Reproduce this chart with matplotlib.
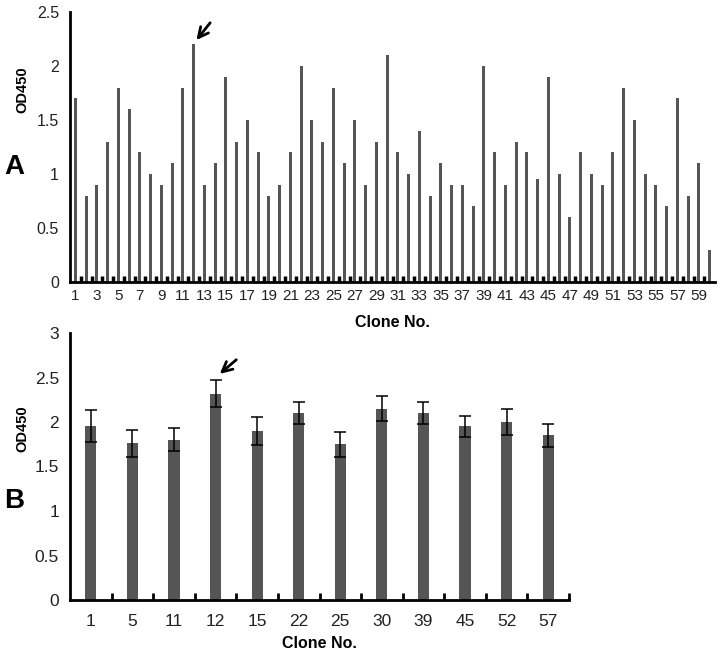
import matplotlib
matplotlib.use("Agg")
import matplotlib.pyplot as plt
import numpy as np

plt.rcParams['font.family'] = ['Liberation Sans', 'DejaVu Sans']

# Panel A data
clones_a = list(range(1, 61))
od_a = [1.7, 0.8, 0.9, 1.3, 1.8, 1.6, 1.2, 1.0, 0.9, 1.1,
        1.8, 2.2, 0.9, 1.1, 1.9, 1.3, 1.5, 1.2, 0.8, 0.9,
        1.2, 2.0, 1.5, 1.3, 1.8, 1.1, 1.5, 0.9, 1.3, 2.1,
        1.2, 1.0, 1.4, 0.8, 1.1, 0.9, 0.9, 0.7, 2.0, 1.2,
        0.9, 1.3, 1.2, 0.95, 1.9, 1.0, 0.6, 1.2, 1.0, 0.9,
        1.2, 1.8, 1.5, 1.0, 0.9, 0.7, 1.7, 0.8, 1.1, 0.3]

# Panel B data
clones_b = ['1', '5', '11', '12', '15', '22', '25', '30', '39', '45', '52', '57']
od_b = [1.95, 1.76, 1.80, 2.32, 1.90, 2.10, 1.75, 2.15, 2.10, 1.95, 2.00, 1.85]
err_b = [0.18, 0.15, 0.13, 0.15, 0.155, 0.12, 0.14, 0.14, 0.12, 0.12, 0.15, 0.13]

bar_color = '#555555'
W, H = 720, 654
fig = plt.figure(figsize=(W / 100, H / 100), dpi=100)

def px_axes(left, right, top, bottom):
    return fig.add_axes([left / W, 1 - bottom / H, (right - left) / W, (bottom - top) / H])

# ---------- Panel A ----------
axA = px_axes(70, 715, 12, 282)
xa = np.arange(len(od_a))
axA.bar(xa, od_a, width=0.3, color=bar_color)
axA.set_xlim(-0.5, len(od_a) - 0.5)
axA.set_ylim(0, 2.5)
axA.set_yticks([0, 0.5, 1, 1.5, 2, 2.5])
axA.set_yticklabels(['0', '0.5', '1', '1.5', '2', '2.5'])
axA.set_xticks(xa[::2])
axA.set_xticklabels([str(c) for c in clones_a[::2]])
axA.set_xticks(np.arange(0.5, len(od_a) - 0.5, 1.0), minor=True)
axA.tick_params(axis='x', which='major', length=0, labelsize=11, pad=5, colors='#222222')
axA.tick_params(axis='x', which='minor', direction='in', length=4, width=2.5, color='black')
axA.tick_params(axis='y', which='major', length=0, labelsize=11.5, pad=8, colors='#222222')
for s in ['top', 'right']:
    axA.spines[s].set_visible(False)
axA.spines['left'].set_linewidth(2)
axA.spines['bottom'].set_linewidth(2)
axA.set_xlabel('Clone No.', fontsize=11.5, fontweight='bold', labelpad=9)
axA.annotate('', xy=(11.1, 2.22), xytext=(12.7, 2.42),
             arrowprops=dict(arrowstyle='->', lw=2, color='black', mutation_scale=18))

# ---------- Panel B ----------
axB = px_axes(70, 569, 333, 600)
xb = np.arange(len(od_b))
axB.bar(xb, od_b, width=0.27, color=bar_color, yerr=err_b,
        error_kw=dict(ecolor='black', elinewidth=1.1, capsize=4, capthick=1.1))
axB.set_xlim(-0.5, len(od_b) - 0.5)
axB.set_ylim(0, 3)
axB.set_yticks([0, 0.5, 1, 1.5, 2, 2.5, 3])
axB.set_yticklabels(['0', '0.5', '1', '1.5', '2', '2.5', '3'])
axB.set_xticks(xb)
axB.set_xticklabels(clones_b)
axB.set_xticks(np.arange(0.5, len(od_b), 1.0), minor=True)
axB.tick_params(axis='x', which='major', length=0, labelsize=12.5, pad=10, colors='#222222')
axB.tick_params(axis='x', which='minor', direction='in', length=5, width=2, color='black')
axB.tick_params(axis='y', which='major', length=0, labelsize=12.5, pad=8, colors='#222222')
for s in ['top', 'right']:
    axB.spines[s].set_visible(False)
axB.spines['left'].set_linewidth(2)
axB.spines['bottom'].set_linewidth(2)
axB.set_xlabel('Clone No.', fontsize=11.5, fontweight='bold', labelpad=5)
axB.annotate('', xy=(3.05, 2.52), xytext=(3.55, 2.72),
             arrowprops=dict(arrowstyle='->', lw=2, color='black', mutation_scale=18))

# Axis labels and panel letters
fig.text(22 / W, 1 - 90 / H, 'OD450', rotation=90, fontsize=10.5, fontweight='bold',
         ha='center', va='center')
fig.text(22 / W, 1 - 429 / H, 'OD450', rotation=90, fontsize=10.5, fontweight='bold',
         ha='center', va='center')
fig.text(14 / W, 1 - 167 / H, 'A', fontsize=20, fontweight='bold', ha='center', va='center')
fig.text(14 / W, 1 - 501 / H, 'B', fontsize=20, fontweight='bold', ha='center', va='center')

fig.savefig('out.png', dpi=100)
